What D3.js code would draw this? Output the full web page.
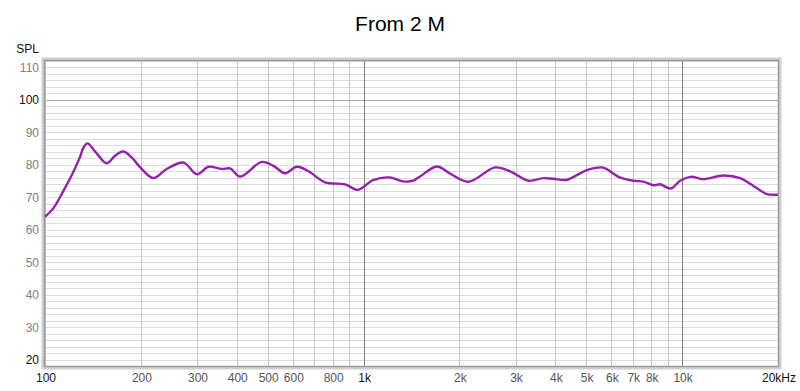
<!DOCTYPE html>
<meta charset="utf-8">
<style>
body { margin: 0; background: #fff; }
text { font-family: "Liberation Sans", Arial, sans-serif; }
.title { font-size: 21px; fill: #000; }
.lbl { font-size: 12px; }
</style>
<svg width="800" height="391"></svg>
<script src="https://d3js.org/d3.v7.min.js"></script>
<script>

// measured response, Hz / dB SPL
var freq = [100, 106, 114, 123, 129, 132, 136, 144, 156, 166, 176, 187, 199, 219, 241, 272, 300, 326, 359, 381, 410,
  479, 521, 567, 617, 670, 757, 875, 961, 1071, 1211, 1331, 1430, 1504, 1698, 1869, 2134, 2588, 2884, 3292, 3668,
  3944, 4345, 5021, 5597, 5802, 6310, 7034, 7558, 8128, 8527, 9215, 9856, 10650, 11665, 13484, 15212, 16746, 18448, 19830, 20000];
var spl = [64.0, 66.5, 71.8, 78.0, 82.6, 85.3, 86.6, 84.0, 80.5, 82.8, 84.1, 82.3, 79.2, 75.9, 78.7, 80.7, 77.1, 79.4, 78.7, 78.9, 76.4,
  80.9, 79.7, 77.4, 79.4, 78.1, 74.6, 74.0, 72.3, 75.3, 76.1, 74.9, 75.1, 76.4, 79.5, 77.3, 74.8, 79.2, 78.0, 75.1, 75.9,
  75.7, 75.4, 78.4, 79.2, 78.7, 76.3, 75.1, 74.8, 73.7, 74.0, 72.7, 75.1, 76.3, 75.6, 76.7, 75.9, 73.5, 71.0, 70.8, 70.8];

var xGrid = [100, 200, 300, 400, 500, 600, 700, 800, 900, 1000, 2000, 3000, 4000, 5000, 6000, 7000, 8000, 9000, 10000, 20000];
var xTicks = [100, 200, 300, 400, 500, 600, 800, 1000, 2000, 3000, 4000, 5000, 6000, 7000, 8000, 10000, 20000];
var xTickLabels = ["100", "200", "300", "400", "500", "600", "800", "1k", "2k", "3k", "4k", "5k", "6k", "7k", "8k", "10k", "20kHz"];
var yTicks = [20, 30, 40, 50, 60, 70, 80, 90, 100, 110];

var svg = d3.select("svg");
var pLeft = 45, pRight = 778, pTop = 61, pBottom = 366;

var x = d3.scaleLog().domain([100, 20000]).range([pLeft, pRight]);
var y = d3.scaleLinear().domain([18, 112]).range([pBottom, pTop]);

svg.append("text").attr("class", "title")
    .attr("x", 400).attr("y", 31).attr("text-anchor", "middle")
    .text("From 2 M");

// frame shadow
svg.append("rect")
    .attr("x", pLeft - 2).attr("y", pTop - 2)
    .attr("width", pRight - pLeft + 4).attr("height", pBottom - pTop + 4)
    .attr("fill", "none").attr("stroke", "#d0d0d0").attr("stroke-width", 3);

var grid = svg.append("g");

grid.selectAll(".hg")
  .data(d3.range(18, 113, 2))
  .enter().append("line")
    .attr("x1", pLeft).attr("x2", pRight)
    .attr("y1", function(d) { return Math.round(y(d)) + 0.5; })
    .attr("y2", function(d) { return Math.round(y(d)) + 0.5; })
    .attr("stroke", function(d) { return d == 100 ? "#a8a8a8" : "#dcdcdc"; });

grid.selectAll(".vg")
  .data(xGrid)
  .enter().append("line")
    .attr("y1", pTop).attr("y2", pBottom)
    .attr("x1", function(d) { return Math.round(x(d)) + 0.5; })
    .attr("x2", function(d) { return Math.round(x(d)) + 0.5; })
    .attr("stroke", function(d) { return (d == 1000 || d == 10000) ? "#808080" : "#c4c4c4"; });

svg.append("rect")
    .attr("x", pLeft - 0.5).attr("y", pTop - 0.5)
    .attr("width", pRight - pLeft + 1).attr("height", pBottom - pTop + 1)
    .attr("fill", "none").attr("stroke", "#9a9a9a").attr("stroke-width", 1.5);

svg.selectAll(".yl")
  .data(yTicks)
  .enter().append("text")
    .attr("class", "lbl")
    .attr("x", 39)
    .attr("y", function(d) { return y(d) + 4.5; })
    .attr("text-anchor", "end")
    .attr("fill", function(d) { return (d == 100 || d == 20) ? "#111" : "#808080"; })
    .text(function(d) { return d; });

svg.append("text").attr("class", "lbl")
    .attr("x", 39).attr("y", 53).attr("text-anchor", "end")
    .attr("fill", "#111")
    .text("SPL");

svg.selectAll(".xl")
  .data(xTicks)
  .enter().append("text")
    .attr("class", "lbl")
    .attr("x", function(d) { return x(d) + 1; })
    .attr("y", 382)
    .attr("text-anchor", "middle")
    .attr("fill", function(d) { return (d == 100 || d == 1000 || d == 20000) ? "#111" : "#555"; })
    .text(function(d, i) { return xTickLabels[i]; });

var line = d3.line()
    .x(function(d) { return x(d[0]); })
    .y(function(d) { return y(d[1]); })
    .curve(d3.curveCatmullRom.alpha(0.5));

svg.append("path")
    .datum(d3.zip(freq, spl))
    .attr("fill", "none")
    .attr("stroke", "#9420ac")
    .attr("stroke-width", 2.4)
    .attr("stroke-linejoin", "round")
    .attr("d", line);

</script>
